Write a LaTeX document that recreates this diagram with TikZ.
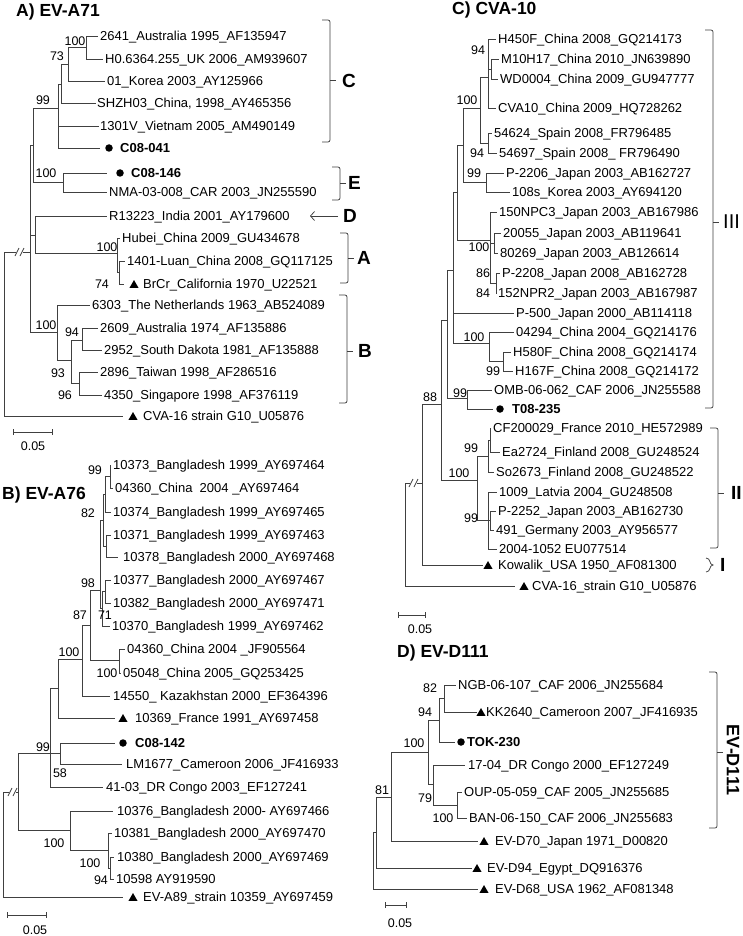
\documentclass[tikz,border=0pt]{standalone}
\usepackage{fontspec}
\setmainfont{Liberation Sans}
\usetikzlibrary{shapes.geometric,arrows.meta}
\tikzset{
  br/.style={draw=black!75, line width=0.75pt},
  leaf/.style={anchor=west, inner sep=0pt, font=\fontsize{13}{15}\selectfont, text height=9.3pt, text depth=1pt},
  bsl/.style={inner sep=0pt, font=\fontsize{12.5}{15}\selectfont},
  ttl/.style={anchor=west, inner sep=0pt, font=\fontsize{17.5}{20}\selectfont\bfseries},
  cl/.style={anchor=west, inner sep=0pt, font=\fontsize{19}{22}\selectfont\bfseries},
  clr/.style={anchor=west, inner sep=0pt, font=\fontsize{20}{22}\selectfont},
  dotm/.style={circle, fill=black, inner sep=0pt, minimum size=7.5pt},
  trim/.style={regular polygon, regular polygon sides=3, fill=black, inner sep=0pt, minimum size=10.5pt},
}
\newcommand{\lf}[6]{%
  \coordinate (#1e) at (#3,#4);
  \node[leaf] (#1) at (#5,#4) {#6};
  \draw[br] (#2) |- (#1e);
}
\newcommand{\inn}[4]{%
  \coordinate (#1) at (#3,#4);
  \draw[br] (#2) |- (#1);
}
\newcommand{\bsv}[4]{\node[bsl] (#1) at (#2,#3) {#4};}
\newcommand{\brk}[5]{%
  \coordinate (#1t) at (#2,#3);
  \coordinate (#1b) at (#2,#4);
  \coordinate (#1m) at (#2,#5);
  \draw[br, rounded corners=2pt] ([xshift=-8pt]#1t) -- (#1t) -- (#1b) -- ([xshift=-8pt]#1b);
  \draw[br] (#1m) -- ([xshift=6pt]#1m);
}
\begin{document}
\begin{tikzpicture}[x=1pt,y=-1pt]
\fill[white] (0,0) rectangle (742,936);
\useasboundingbox (0,0) rectangle (742,936);

%%%%%%%%%%%%%%%% Panel A
\node[ttl] (tA) at (16,12) {A) EV-A71};
\coordinate (aR) at (4,252);
\coordinate (aBL) at (16,252);
\coordinate (aBR) at (23,252);
\coordinate (aIG) at (30,252);
\draw[br] (aR) -- (aBL);
\draw[br] (15,256) -- (19,248);
\draw[br] (20,256) -- (24,248);
\draw[br] (aBR) -- (aIG);
\inn{aTop}{aIG}{33}{145}
\inn{a99}{aTop}{58}{108}
\inn{a61}{a99}{61}{84}
\inn{a73}{a61}{68}{64}
\inn{a100}{a73}{86}{47}
\lf{a1}{a100}{98}{36}{100}{2641\_Australia 1995\_AF135947}
\lf{a2}{a100}{103}{59}{105}{H0.6364.255\_UK 2006\_AM939607}
\lf{a3}{a73}{105}{81}{107}{01\_Korea 2003\_AY125966}
\lf{a4}{a61}{96}{103}{97}{SHZH03\_China, 1998\_AY465356}
\lf{a5}{a99}{99}{126}{100}{1301V\_Vietnam 2005\_AM490149}
\lf{a6}{a99}{100}{148}{120}{\textbf{C08-041}}
\node[dotm] (a6m) at (109,148) {};
\inn{aE}{aTop}{63}{182}
\lf{a7}{aE}{107}{173}{131}{\textbf{C08-146}}
\node[dotm] (a7m) at (120,173) {};
\lf{a8}{aE}{107}{192}{109}{NMA-03-008\_CAR 2003\_JN255590}
\inn{aDA}{aIG}{35}{235}
\lf{a9}{aDA}{107}{216}{109}{R13223\_India 2001\_AY179600}
\inn{aA}{aDA}{117}{253}
\lf{a10}{aA}{120}{238}{122}{Hubei\_China 2009\_GU434678}
\inn{aLB}{aA}{119}{272}
\lf{a11}{aLB}{125}{261}{127}{1401-Luan\_China 2008\_GQ117125}
\lf{a12}{aLB}{124}{284}{143}{BrCr\_California 1970\_U22521}
\node[trim] (a12m) at (134,285.3) {};
\inn{aB}{aIG}{57}{332}
\lf{a13}{aB}{90}{305}{92}{6303\_The Netherlands 1963\_AB524089}
\inn{a93}{aB}{71}{360}
\inn{a94}{a93}{82}{340}
\lf{a14}{a94}{98}{328}{100}{2609\_Australia 1974\_AF135886}
\lf{a15}{a94}{102}{350}{104}{2952\_South Dakota 1981\_AF135888}
\inn{a96}{a93}{79}{383}
\lf{a16}{a96}{98}{372}{100}{2896\_Taiwan 1998\_AF286516}
\lf{a17}{a96}{102}{395}{104}{4350\_Singapore 1998\_AF376119}
\lf{a18}{aR}{123}{416}{143}{CVA-16 strain G10\_U05876}
\node[trim] (a18m) at (133,417.3) {};
\bsv{ab1}{75}{41}{100}
\bsv{ab2}{57}{56}{73}
\bsv{ab3}{43}{100}{99}
\bsv{ab4}{46}{173}{100}
\bsv{ab5}{107}{247}{100}
\bsv{ab6}{102}{284}{74}
\bsv{ab7}{46}{325}{100}
\bsv{ab8}{72}{332}{94}
\bsv{ab9}{58}{373}{93}
\bsv{ab10}{65}{395}{96}
\brk{kC}{330}{20}{142}{80}
\node[cl] (lC) at (342,81) {C};
\brk{kE}{340}{167}{200}{183}
\node[cl] (lE) at (348,183) {E};
\node[cl] (lD) at (343,216) {D};
\coordinate (arS) at (338,216);
\coordinate (arD) at (310,216);
\draw[br, -{Straight Barb[length=4pt,width=9pt]}] (arS) -- (arD);
\brk{kA}{348}{233}{283}{258}
\node[cl] (lA) at (357,258) {A};
\brk{kB}{347}{295}{403}{351}
\node[cl] (lB) at (358,351) {B};
\coordinate (sA1) at (13,432);
\coordinate (sA2) at (52,432);
\draw[br] (sA1) -- (sA2);
\draw[br] ([yshift=3pt]sA1) -- ([yshift=-3pt]sA1);
\draw[br] ([yshift=3pt]sA2) -- ([yshift=-3pt]sA2);
\node[bsl] (sAl) at (33,446) {0.05};

%%%%%%%%%%%%%%%% Panel B
\node[ttl] (tB) at (2,495) {B) EV-A76};
\coordinate (bR) at (3,792);
\coordinate (bBL) at (9,792);
\coordinate (bBR) at (16,792);
\coordinate (bIG) at (18,792);
\draw[br] (bR) -- (bBL);
\draw[br] (8,796) -- (12,788);
\draw[br] (13,796) -- (17,788);
\draw[br] (bBR) -- (bIG);
\inn{b99}{bIG}{50}{753}
\inn{bU}{b99}{58}{688}
\inn{b100b}{bU}{82}{659}
\inn{b87}{b100b}{90}{625}
\inn{b98}{b87}{100}{590}
\inn{bTop}{b98}{103}{520}
\inn{b82}{bTop}{105}{494}
\inn{b99a}{b82}{110}{476}
\lf{b1}{b99a}{111}{465}{113}{10373\_Bangladesh 1999\_AY697464}
\lf{b2}{b99a}{113}{488}{115}{04360\_China\ \ 2004 \_AY697464}
\lf{b3}{b82}{111}{512}{113}{10374\_Bangladesh 1999\_AY697465}
\inn{bC}{bTop}{106}{546}
\lf{b4}{bC}{111}{535}{113}{10371\_Bangladesh 1999\_AY697463}
\lf{b5}{bC}{118}{557}{123}{10378\_Bangladesh 2000\_AY697468}
\inn{b71}{b98}{102}{608}
\inn{bD}{b71}{105}{591}
\lf{b6}{bD}{111}{580}{113}{10377\_Bangladesh 2000\_AY697467}
\lf{b7}{bD}{111}{603}{113}{10382\_Bangladesh 2000\_AY697471}
\lf{b8}{b71}{110}{626}{112}{10370\_Bangladesh 1999\_AY697462}
\inn{bCh}{b87}{119}{660}
\lf{b9}{bCh}{125}{649}{127}{04360\_China 2004 \_JF905564}
\lf{b10}{bCh}{121}{673}{123}{05048\_China 2005\_GQ253425}
\lf{b11}{b100b}{110}{696}{113}{14550\_ Kazakhstan 2000\_EF364396}
\lf{b12}{bU}{115}{718}{135}{10369\_France 1991\_AY697458}
\node[trim] (b12m) at (123,719.3) {};
\inn{b58}{b99}{60}{753}
\lf{b13}{b58}{115}{743}{135}{\textbf{C08-142}}
\node[dotm] (b13m) at (123,743) {};
\lf{b14}{b58}{122}{764}{126}{LM1677\_Cameroon 2006\_JF416933}
\lf{b15}{b99}{103}{787}{106}{41-03\_DR Congo 2003\_EF127241}
\inn{b100c}{bIG}{70}{830}
\lf{b16}{b100c}{113}{811}{117}{10376\_Bangladesh 2000- AY697466}
\inn{b100d}{b100c}{108}{850}
\lf{b17}{b100d}{112}{833}{114}{10381\_Bangladesh 2000\_AY697470}
\inn{b94}{b100d}{110}{868}
\lf{b18}{b94}{114}{857}{117}{10380\_Bangladesh 2000\_AY697469}
\lf{b19}{b94}{114}{879}{116}{10598 AY919590}
\lf{b20}{bR}{123}{897}{143}{EV-A89\_strain 10359\_AY697459}
\node[trim] (b20m) at (133,898.3) {};
\bsv{bb1}{95}{470}{99}
\bsv{bb2}{88}{513}{82}
\bsv{bb3}{88}{583}{98}
\bsv{bb4}{80}{615}{87}
\bsv{bb5}{105}{615}{71}
\bsv{bb6}{69}{652}{100}
\bsv{bb7}{107}{673}{100}
\bsv{bb8}{43}{747}{99}
\bsv{bb9}{60}{773}{58}
\bsv{bb10}{54}{843}{100}
\bsv{bb11}{90}{863}{100}
\bsv{bb12}{101}{880}{94}
\coordinate (sB1) at (7,915);
\coordinate (sB2) at (46,915);
\draw[br] (sB1) -- (sB2);
\draw[br] ([yshift=3pt]sB1) -- ([yshift=-3pt]sB1);
\draw[br] ([yshift=3pt]sB2) -- ([yshift=-3pt]sB2);
\node[bsl] (sBl) at (35,930) {0.05};

%%%%%%%%%%%%%%%% Panel C
\node[ttl] (tC) at (452,10) {C) CVA-10};
\coordinate (cR) at (405,483);
\coordinate (cBL) at (410,483);
\coordinate (cBR) at (417,483);
\coordinate (cN) at (422,483);
\draw[br] (cR) -- (cBL);
\draw[br] (409,487) -- (413,479);
\draw[br] (414,487) -- (418,479);
\draw[br] (cBR) -- (cN);
\inn{c88}{cN}{441}{404}
\inn{c447}{c88}{447}{320}
\inn{c453}{c447}{453}{270}
\inn{c457}{c453}{457}{192}
\inn{c463}{c457}{463}{145}
\inn{c480}{c463}{480}{108}
\inn{c94}{c480}{488}{77}
\lf{c1}{c94}{496}{39}{498}{H450F\_China 2008\_GQ214173}
\inn{cMW}{c94}{491}{69}
\lf{c2}{cMW}{499}{59}{501}{M10H17\_China 2010\_JN639890}
\lf{c3}{cMW}{498}{79}{500}{WD0004\_China 2009\_GU947777}
\lf{c4}{c94}{496}{108}{498}{CVA10\_China 2009\_HQ728262}
\inn{cSp}{c480}{488}{143}
\lf{c5}{cSp}{492}{133}{494}{54624\_Spain 2008\_FR796485}
\lf{c6}{cSp}{497}{153}{499}{54697\_Spain 2008\_ FR796490}
\inn{c99K}{c463}{486}{182}
\lf{c7}{c99K}{504}{173}{506}{P-2206\_Japan 2003\_AB162727}
\lf{c8}{c99K}{510}{192}{512}{108s\_Korea 2003\_AY694120}
\inn{c100J}{c457}{490}{240}
\lf{c9}{c100J}{497}{212}{499}{150NPC3\_Japan 2003\_AB167986}
\inn{cJ2}{c100J}{494}{243}
\lf{c10}{cJ2}{501}{233}{503}{20055\_Japan 2003\_AB119641}
\lf{c11}{cJ2}{498}{253}{500}{80269\_Japan 2003\_AB126614}
\inn{c86}{c100J}{496}{283}
\lf{c12}{c86}{500}{273}{502}{P-2208\_Japan 2008\_AB162728}
\lf{c13}{c86}{497}{293}{498}{152NPR2\_Japan 2003\_AB167987}
\lf{c14}{c453}{514}{313}{516}{P-500\_Japan 2000\_AB114118}
\inn{cCh}{c453}{489}{343}
\lf{c15}{cCh}{514}{332}{516}{04294\_China 2004\_GQ214176}
\inn{c99s}{cCh}{503}{361}
\lf{c16}{c99s}{511}{352}{513}{H580F\_China 2008\_GQ214174}
\lf{c17}{c99s}{513}{371}{515}{H167F\_China 2008\_GQ214172}
\inn{cOMB}{c447}{467}{398}
\lf{c18}{cOMB}{492}{390}{494}{OMB-06-062\_CAF 2006\_JN255588}
\lf{c19}{cOMB}{493}{409}{512}{\textbf{T08-235}}
\node[dotm] (c19m) at (500,409) {};
\inn{cII}{c88}{477}{480}
\inn{c99F}{cII}{488}{456}
\inn{cCE}{c99F}{490}{440}
\lf{c20}{cCE}{491}{428}{493}{CF200029\_France 2010\_HE572989}
\lf{c21}{cCE}{500}{452}{502}{Ea2724\_Finland 2008\_GU248524}
\lf{c22}{c99F}{494}{472}{496}{So2673\_Finland 2008\_GU248522}
\inn{c99L}{cII}{488}{520}
\lf{c23}{c99L}{497}{492}{499}{1009\_Latvia 2004\_GU248508}
\inn{cPG}{c99L}{490}{520}
\lf{c24}{cPG}{496}{511}{498}{P-2252\_Japan 2003\_AB162730}
\lf{c25}{cPG}{494}{530}{496}{491\_Germany 2003\_AY956577}
\lf{c26}{c99L}{497}{549}{499}{2004-1052 EU077514}
\lf{c27}{cN}{483}{565}{498}{Kowalik\_USA 1950\_AF081300}
\node[trim] (c27m) at (488,566.3) {};
\lf{c28}{cR}{515}{586}{532}{CVA-16\_strain G10\_U05876}
\node[trim] (c28m) at (524,587.3) {};
\bsv{cb1}{478}{50}{94}
\bsv{cb2}{467}{100}{100}
\bsv{cb3}{477}{153}{94}
\bsv{cb4}{474}{173}{99}
\bsv{cb5}{479}{247}{100}
\bsv{cb6}{483}{273}{86}
\bsv{cb7}{483}{293}{84}
\bsv{cb8}{474}{337}{100}
\bsv{cb9}{493}{371}{99}
\bsv{cb10}{460}{393}{99}
\bsv{cb11}{430}{397}{88}
\bsv{cb12}{471}{448}{99}
\bsv{cb13}{459}{473}{100}
\bsv{cb14}{471}{518}{99}
\brk{kIII}{713}{30}{408}{222}
\node[clr] (lIII) at (723,222) {III};
\brk{kII}{718}{428}{548}{493}
\node[cl] (lII) at (731,493) {II};
\coordinate (kIt) at (706,558);
\coordinate (kIc) at (713,565);
\coordinate (kIb) at (706,572);
\draw[br] (kIt) .. controls (711,558) and (709,565) .. (kIc) .. controls (709,565) and (711,572) .. (kIb);
\node[cl] (lI) at (720,565) {I};
\coordinate (sC1) at (398,615);
\coordinate (sC2) at (425,615);
\draw[br] (sC1) -- (sC2);
\draw[br] ([yshift=3pt]sC1) -- ([yshift=-3pt]sC1);
\draw[br] ([yshift=3pt]sC2) -- ([yshift=-3pt]sC2);
\node[bsl] (sCl) at (420,629) {0.05};

%%%%%%%%%%%%%%%% Panel D
\node[ttl] (tD) at (397,653) {D) EV-D111};
\coordinate (dR) at (373,832);
\inn{d376}{dR}{376}{832}
\inn{d81}{d376}{391}{797}
\inn{d100}{d81}{428}{752}
\inn{d94}{d100}{439}{720}
\inn{d82}{d94}{444}{698}
\lf{d1}{d82}{456}{685}{458}{NGB-06-107\_CAF 2006\_JN255684}
\lf{d2}{d82}{477}{712}{486}{KK2640\_Cameroon 2007\_JF416935}
\node[trim] (d2m) at (481,713.3) {};
\lf{d3}{d94}{455}{742}{467}{\textbf{TOK-230}}
\node[dotm] (d3m) at (461,742) {};
\inn{d79}{d100}{433}{784}
\lf{d4}{d79}{465}{765}{468}{17-04\_DR Congo 2000\_EF127249}
\inn{d100b}{d79}{457}{805}
\lf{d5}{d100b}{462}{792}{464}{OUP-05-059\_CAF 2005\_JN255685}
\lf{d6}{d100b}{467}{818}{469}{BAN-06-150\_CAF 2006\_JN255683}
\lf{d7}{d81}{478}{841}{495}{EV-D70\_Japan 1971\_D00820}
\node[trim] (d7m) at (484,842.3) {};
\lf{d8}{d376}{472}{868}{487}{EV-D94\_Egypt\_DQ916376}
\node[trim] (d8m) at (477,869.3) {};
\lf{d9}{dR}{478}{889}{495}{EV-D68\_USA 1962\_AF081348}
\node[trim] (d9m) at (484,890.3) {};
\bsv{db1}{430}{688}{82}
\bsv{db2}{425}{712}{94}
\bsv{db3}{414}{743}{100}
\bsv{db4}{382}{790}{81}
\bsv{db5}{425}{798}{79}
\bsv{db6}{443}{818}{100}
\brk{kD}{717}{672}{828}{752}
\node[font=\fontsize{18}{20}\selectfont\bfseries, inner sep=0pt, rotate=-90] (lD111) at (733,760) {EV-D111};
\coordinate (sD1) at (385,905);
\coordinate (sD2) at (406,905);
\draw[br] (sD1) -- (sD2);
\draw[br] ([yshift=3pt]sD1) -- ([yshift=-3pt]sD1);
\draw[br] ([yshift=3pt]sD2) -- ([yshift=-3pt]sD2);
\node[bsl] (sDl) at (400,923) {0.05};
\end{tikzpicture}
\end{document}
